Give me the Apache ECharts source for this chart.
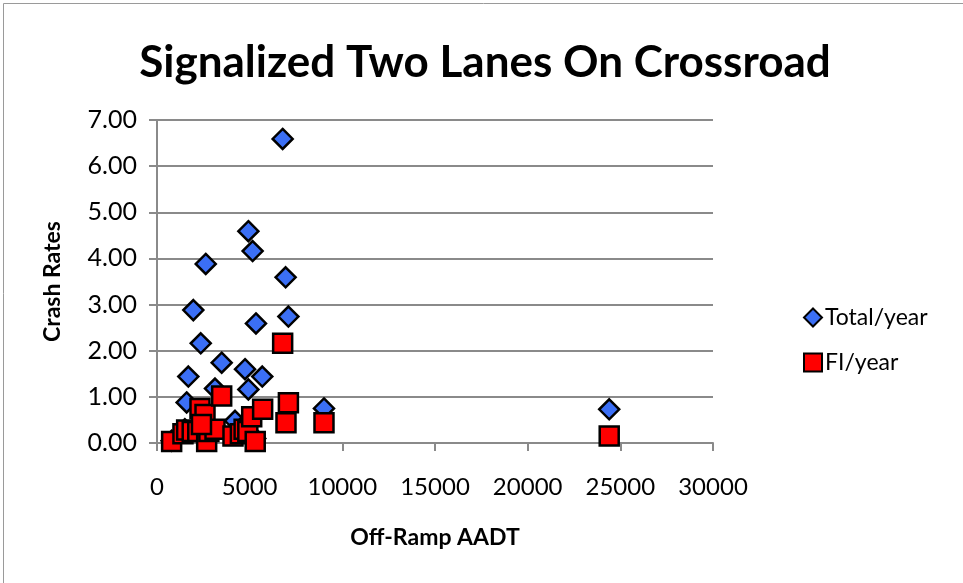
<!DOCTYPE html>
<html>
<head>
<meta charset="utf-8">
<script src="https://cdn.jsdelivr.net/npm/echarts@6/dist/echarts.min.js"></script>
<style>
html,body{margin:0;padding:0;background:#fff;}
#c{width:963px;height:583px;}
</style>
</head>
<body>
<div id="c"></div>
<script>
const titleText = "Signalized Two Lanes On Crossroad";
const xName = "Off-Ramp AADT";
const yName = "Crash Rates";
const seriesNames = ["Total/year", "FI/year"];

const totalX = [6780, 4930, 5160, 2630, 6940, 1960, 7090, 5340, 2360, 3490, 4750, 5680, 1690, 3130, 4930, 1600, 9010, 24400, 4210, 790, 1500, 2700, 5300, 4600];
const totalY = [6.59, 4.59, 4.16, 3.88, 3.59, 2.88, 2.74, 2.59, 2.16, 1.74, 1.60, 1.44, 1.44, 1.18, 1.16, 0.88, 0.75, 0.73, 0.48, 0.05, 0.30, 0.10, 0.10, 0.35];

const fiX = [790, 1400, 1600, 1900, 2200, 2320, 2590, 2680, 2800, 3130, 3490, 4100, 4500, 4700, 4900, 5110, 5300, 5700, 6780, 6960, 7090, 9010, 24400, 2400];
const fiY = [0.03, 0.20, 0.28, 0.25, 0.25, 0.75, 0.62, 0.03, 0.25, 0.30, 1.02, 0.15, 0.20, 0.30, 0.25, 0.57, 0.03, 0.73, 2.16, 0.44, 0.87, 0.44, 0.15, 0.40];

const xTicks = {min: 0, max: 30000, interval: 5000};
const yTicks = {min: 0, max: 7, interval: 1};

const pair = (xs, ys) => xs.map((x, i) => [x, ys[i]]);

const chart = echarts.init(document.getElementById('c'));
const font = "Lato, 'Open Sans', sans-serif";
chart.setOption({
  animation: false,
  backgroundColor: '#fff',
  title: {
    text: titleText,
    left: 480, top: 36, textAlign: 'center',
    textStyle: {fontFamily: font, fontWeight: 'bold', fontSize: 44, color: '#000'}
  },
  grid: {left: 157, right: 250, top: 120, bottom: 140, containLabel: false},
  legend: {
    orient: 'vertical', left: 798, top: 301, itemGap: 22,
    itemWidth: 18, itemHeight: 18,
    textStyle: {fontFamily: font, fontSize: 23, color: '#000', padding: [0,0,0,-2]},
    data: seriesNames
  },
  xAxis: {
    type: 'value', min: xTicks.min, max: xTicks.max, interval: xTicks.interval,
    name: xName, nameLocation: 'middle', nameGap: 83,
    nameTextStyle: {fontFamily: font, fontWeight: 'bold', fontSize: 23, color: '#000'},
    axisLine: {show: true, onZero: false, lineStyle: {color: '#8a8a8a', width: 2}},
    axisTick: {show: true, inside: false, length: 8, lineStyle: {color: '#8a8a8a', width: 2}},
    axisLabel: {fontFamily: font, fontSize: 24, color: '#000', margin: 32, formatter: v => String(v)},
    splitLine: {show: false}
  },
  yAxis: {
    type: 'value', min: yTicks.min, max: yTicks.max, interval: yTicks.interval,
    name: yName, nameLocation: 'middle', nameGap: 93, nameRotate: 90,
    nameTextStyle: {fontFamily: font, fontWeight: 'bold', fontSize: 23, color: '#000'},
    axisLine: {show: true, lineStyle: {color: '#8a8a8a', width: 2}},
    axisTick: {show: true, length: 8, lineStyle: {color: '#8a8a8a', width: 2}},
    axisLabel: {fontFamily: font, fontSize: 25, color: '#000', margin: 20, formatter: v => v.toFixed(2)},
    splitLine: {show: true, lineStyle: {color: '#8a8a8a', width: 2}}
  },
  graphic: [{
    type: 'rect', left: 1, top: 1, silent: true, z: -10,
    shape: {width: 960, height: 580},
    style: {fill: 'none', stroke: '#9a9a9a', lineWidth: 1}
  }],
  series: [
    {
      name: seriesNames[0], type: 'scatter', symbol: 'diamond', symbolSize: 20,
      itemStyle: {color: '#3b6ff5', borderColor: '#000', borderWidth: 2.5, opacity: 1},
      data: pair(totalX, totalY)
    },
    {
      name: seriesNames[1], type: 'scatter', symbol: 'rect', symbolSize: 19,
      itemStyle: {color: '#ff0000', borderColor: '#000', borderWidth: 2.5, opacity: 1},
      data: pair(fiX, fiY)
    }
  ]
});
</script>
</body>
</html>
